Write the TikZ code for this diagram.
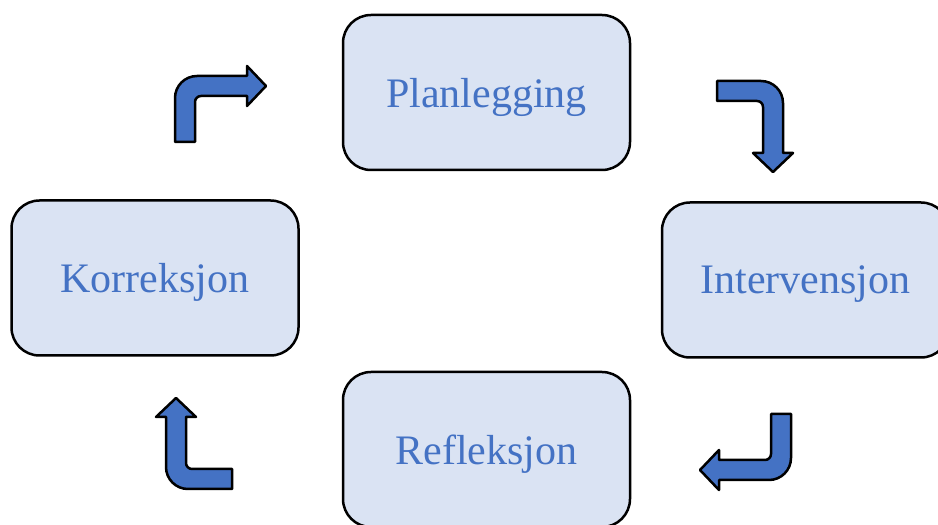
\documentclass[tikz,border=0pt]{standalone}
\usepackage{fontspec}
\setmainfont{Liberation Serif}
\definecolor{boxfill}{HTML}{DAE3F3}
\definecolor{textblue}{HTML}{4472C4}
\definecolor{arrowblue}{HTML}{4472C4}

% bent arrow, origin at the outer corner of the tail, drawn upwards then right
\newcommand{\bentarrow}[2]{%
\draw[line width=2.5pt,fill=arrowblue,line join=round,shift={#1},rotate=#2]
 (0,0) -- (0,44) arc[start angle=180,end angle=90,radius=22] -- (72,66) -- (72,76)
 -- (91,56) -- (72,36) -- (72,46) -- (26,46) arc[start angle=90,end angle=180,radius=6]
 -- (20,0) -- cycle;}

\begin{document}
\begin{tikzpicture}[x=1pt,y=1pt]
\tikzstyle{phase}=[draw,line width=2.5pt,rounded corners=28pt,fill=boxfill,text=textblue,
  minimum width=287pt,minimum height=155pt,text depth=0pt,font=\fontsize{42}{50}\selectfont]
\clip (0,0) rectangle (938,525);
\useasboundingbox (0,0) rectangle (938,525);
\node[phase] (plan) at (486.5,432.5) {Planlegging};
\node[phase] (interv) at (805.5,245) {Intervensjon};
\node[phase] (refl) at (486.5,75.5) {Refleksjon};
\node[phase] (korr) at (155,247) {Korreksjon};
\bentarrow{(175,383)}{0}
\bentarrow{(717,444)}{-90}
\bentarrow{(791,111)}{180}
\bentarrow{(232,36)}{90}
\end{tikzpicture}
\end{document}
